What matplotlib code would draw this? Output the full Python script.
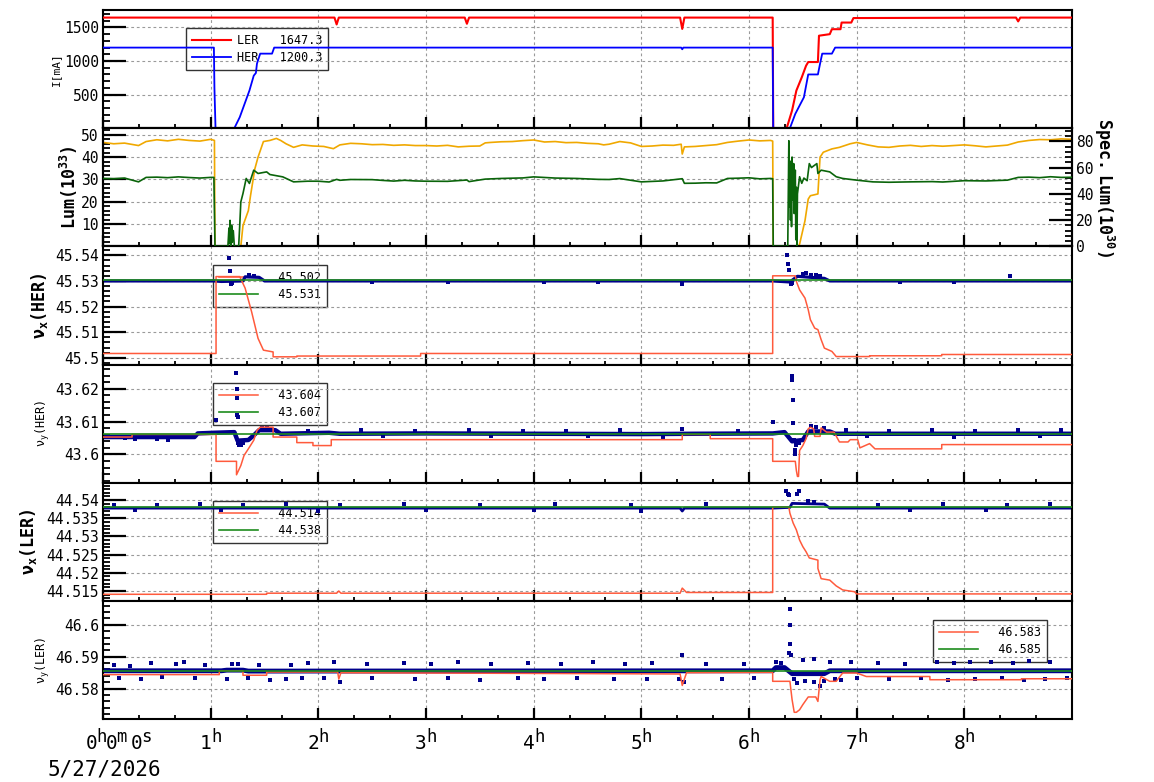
import matplotlib
matplotlib.use("Agg")
import matplotlib.pyplot as plt
from matplotlib.ticker import MultipleLocator, FixedLocator, FuncFormatter

plt.rcParams['font.family'] = ['DejaVu Sans Mono', 'DejaVu Sans']
plt.rcParams['mathtext.fontset'] = 'custom'
plt.rcParams['mathtext.rm'] = 'DejaVu Sans Mono'
plt.rcParams['mathtext.it'] = 'DejaVu Sans Mono:italic'
plt.rcParams['mathtext.bf'] = 'DejaVu Sans Mono:bold'

# ---------------- data (time in hours) ----------------
# Panel 1: beam currents [mA]
ler_t = [0.0, 2.15, 2.17, 2.19, 3.36, 3.38, 3.40, 5.36, 5.38, 5.40, 6.22, 6.225, 6.35, 6.40, 6.44, 6.49,
         6.53, 6.55, 6.64, 6.65, 6.75, 6.77, 6.85, 6.86, 6.95, 6.97, 8.48, 8.50, 8.52, 9.0]
ler_v = [1647, 1647, 1545, 1647, 1647, 1555, 1647, 1647, 1478, 1647, 1647, 0, 0, 263, 560, 757,
         930, 985, 985, 1377, 1400, 1474, 1474, 1573, 1573, 1640, 1647, 1590, 1647, 1647]
her_t = [0.0, 1.03, 1.035, 1.045, 1.22, 1.27, 1.36, 1.40, 1.42, 1.43, 1.46, 1.57, 1.59, 5.37, 5.38,
         5.39, 6.22, 6.225, 6.38, 6.43, 6.47, 6.51, 6.55, 6.64, 6.66, 6.68, 6.77, 6.80, 9.0]
her_v = [1200, 1200, 600, 0, 0, 163, 560, 782, 822, 961, 1110, 1110, 1200, 1200, 1175,
         1200, 1200, 0, 0, 213, 337, 460, 800, 800, 960, 1110, 1110, 1200, 1200]
cur_labels = ["LER   1647.3", "HER   1200.3"]

# Panel 2: luminosity (left, 1e33) and specific luminosity (right, 1e30)
lum_t = [0.0, 0.1, 0.2, 0.33, 0.4, 0.5, 0.6, 0.7, 0.8, 0.9,
         1.0, 1.035, 1.04, 1.28, 1.30, 1.35, 1.37, 1.41, 1.44, 1.49,
         1.55, 1.61, 1.65, 1.70, 1.77, 1.85, 1.95, 2.05, 2.14, 2.2,
         2.3, 2.4, 2.5, 2.6, 2.7, 2.8, 2.9, 3.0, 3.1, 3.2,
         3.3, 3.4, 3.5, 3.55, 3.6, 3.7, 3.8, 3.9, 4.0, 4.1,
         4.2, 4.3, 4.4, 4.5, 4.6, 4.65, 4.7, 4.8, 4.9, 4.95,
         5.0, 5.1, 5.2, 5.3, 5.37, 5.38, 5.40, 5.5, 5.6, 5.7,
         5.8, 5.9, 6.0, 6.1, 6.2, 6.22, 6.225, 6.46, 6.47, 6.52,
         6.55, 6.57, 6.64, 6.66, 6.69, 6.77, 6.84, 6.94, 7.0, 7.1,
         7.2, 7.3, 7.4, 7.5, 7.6, 7.7, 7.8, 7.9, 8.0, 8.1,
         8.2, 8.3, 8.4, 8.5, 8.6, 8.7, 8.8, 8.9, 9.0]
lum_v = [46.6, 46.0, 46.3, 45.2, 47.0, 47.8, 47.3, 48.0, 47.5, 47.2,
         48.0, 47.5, 0, 0, 9.3, 16, 22.7, 34.7, 40, 47,
         47.5, 48.4, 47.5, 46, 44.4, 45.5, 45, 44.8, 43.8, 45.5,
         46.2, 46.0, 45.6, 45.7, 45.3, 45.5, 45.2, 45.2, 45.0, 45.3,
         44.6, 44.9, 45.0, 46.4, 46.6, 46.9, 47.0, 47.4, 47.7, 46.8,
         47.0, 46.5, 46.6, 46.2, 46.0, 45.5, 45.8, 47.0, 46.4, 45.6,
         44.8, 45.0, 45.4, 45.3, 45.8, 41.4, 44.6, 44.8, 45.2, 45.6,
         46.6, 47.2, 47.7, 47.3, 47.5, 47.2, 0, 0, 1, 11.5,
         21.2, 22.7, 23.5, 40, 42.2, 43.7, 44.4, 46, 46.6, 45.5,
         44.6, 44.4, 45.0, 45.3, 44.8, 45.2, 44.9, 45.2, 45.5, 45.1,
         44.6, 45.0, 45.4, 46.8, 47.5, 47.9, 47.8, 48.2, 48.0]
sl_t = [0.0, 0.1, 0.2, 0.33, 0.4, 0.5, 0.6, 0.7, 0.8, 0.9,
        1.0, 1.03, 1.035, 1.04, 1.16, 1.17, 1.175, 1.18, 1.19, 1.195,
        1.20, 1.21, 1.22, 1.26, 1.27, 1.28, 1.30, 1.33, 1.36, 1.40,
        1.44, 1.52, 1.55, 1.67, 1.77, 1.9, 2.0, 2.1, 2.17, 2.2,
        2.3, 2.5, 2.6, 2.7, 2.8, 2.9, 3.0, 3.2, 3.38, 3.4,
        3.55, 3.7, 3.9, 4.0, 4.2, 4.4, 4.6, 4.7, 4.8, 5.0,
        5.2, 5.38, 5.40, 5.5, 5.6, 5.7, 5.8, 5.9, 6.0, 6.1,
        6.2, 6.22, 6.225, 6.36, 6.37, 6.375, 6.38, 6.385, 6.39, 6.395,
        6.40, 6.41, 6.415, 6.42, 6.43, 6.435, 6.44, 6.445, 6.45, 6.47,
        6.49, 6.51, 6.54, 6.56, 6.58, 6.63, 6.64, 6.67, 6.75, 6.81,
        6.87, 7.0, 7.15, 7.3, 7.5, 7.7, 7.8, 8.0, 8.2, 8.4,
        8.5, 8.6, 8.7, 8.8, 8.9, 9.0]
sl_v = [51.7, 51.5, 52.0, 49.1, 52.5, 52.7, 52.3, 52.9, 52.4, 52.0,
        52.5, 52.5, 26, 0, 0, 14, 2, 19.8, 0, 16,
        3, 12, 0, 0, 16, 33.8, 40.2, 51.7, 47.9, 58,
        55.5, 56.7, 54.7, 52.9, 49.1, 49.6, 49.6, 49.0, 51.0, 50.3,
        50.9, 50.8, 50.2, 49.7, 50.3, 49.8, 49.6, 49.5, 50.5, 49.3,
        51.2, 51.7, 52.1, 52.9, 52.0, 51.7, 51.0, 50.9, 51.6, 49.1,
        49.8, 51.5, 48.0, 48.1, 48.4, 48.3, 51.7, 51.9, 52.2, 51.4,
        51.7, 51.5, 0, 0, 80.4, 30, 65, 20, 55, 15,
        68, 35, 63, 25, 58, 5, 45, 0, 40, 53,
        48, 52, 50, 63, 60, 63, 55.5, 58, 56.7, 53,
        51.7, 50.4, 49.1, 48.8, 49.1, 49.3, 49.0, 50.0, 49.8, 50.4,
        52.5, 52.7, 52.3, 53.0, 52.5, 52.6]

# Panel 3: nu_x(HER)
hx_set_t = [0.0, 1.05, 1.05, 1.27, 1.32, 1.35, 1.38, 1.41, 1.44, 1.49, 1.58, 1.58, 1.80, 1.80, 2.95, 2.95,
            6.22, 6.22, 6.43, 6.44, 6.47, 6.52, 6.55, 6.57, 6.61, 6.64, 6.67, 6.70, 6.77, 6.81, 7.12, 7.12,
            7.79, 7.79, 9.0]
hx_set_v = [45.5017, 45.5017, 45.5317, 45.5317, 45.5272, 45.5226, 45.5180, 45.5128, 45.5076, 45.5030,
            45.5023, 45.5004, 45.5004, 45.5007, 45.5007, 45.5017, 45.5017, 45.5320, 45.5320, 45.5298,
            45.5265, 45.5233, 45.5188, 45.5149, 45.5116, 45.5110, 45.5071, 45.5038, 45.5025, 45.5005,
            45.5005, 45.5008, 45.5008, 45.5013, 45.5013]
hx_ref_t = [0.0, 9.0]
hx_ref_v = [45.5305, 45.5305]
hx_meas_t = [0.0, 1.03, 1.10, 1.30, 1.32, 1.45, 1.50, 6.22, 6.38, 6.45, 6.70, 6.75, 9.0]
hx_meas_v = [45.5300, 45.5300, 45.5298, 45.5300, 45.5316, 45.5314, 45.5300, 45.5300, 45.5296, 45.5318,
             45.5310, 45.5300, 45.5300]
hx_dot_t = [1.17, 1.175, 1.19, 1.20, 1.36, 1.40, 5.38, 8.42, 6.35, 6.36, 6.37, 6.39, 6.40, 6.50, 6.53,
            6.58, 6.62, 6.66, 2.5, 3.2, 4.1, 4.6, 7.4, 7.9]
hx_dot_v = [45.5390, 45.5340, 45.5288, 45.5292, 45.5322, 45.5320, 45.5290, 45.5318, 45.5400, 45.5368,
            45.5342, 45.5287, 45.5292, 45.5326, 45.5330, 45.5324, 45.5322, 45.5320, 45.5296, 45.5296,
            45.5297, 45.5296, 45.5296, 45.5296]
hx_labels = ["  45.502", "  45.531"]

# Panel 4: nu_y(HER)
hy_set_t = [0.0, 0.27, 0.27, 1.05, 1.05, 1.24, 1.24, 1.28, 1.31, 1.35,
            1.40, 1.43, 1.46, 1.58, 1.58, 1.80, 1.80, 1.95, 1.95, 2.12,
            2.12, 5.38, 5.38, 5.64, 5.64, 6.22, 6.22, 6.43, 6.44, 6.45,
            6.46, 6.47, 6.50, 6.53, 6.55, 6.57, 6.60, 6.61, 6.66, 6.67,
            6.72, 6.79, 6.84, 6.92, 6.94, 7.01, 7.03, 7.12, 7.17, 7.79,
            7.79, 9.0]
hy_set_v = [43.6053, 43.6053, 43.6061, 43.6061, 43.5979, 43.5979, 43.5938, 43.5966, 43.5997, 43.6017,
            43.6043, 43.6073, 43.6083, 43.6083, 43.6053, 43.6053, 43.6036, 43.6036, 43.6027, 43.6027,
            43.6045, 43.6045, 43.6061, 43.6061, 43.6048, 43.6048, 43.5979, 43.5979, 43.5951, 43.5933,
            43.5933, 43.6012, 43.6027, 43.6048, 43.6078, 43.6083, 43.6078, 43.6055, 43.6055, 43.6081,
            43.6068, 43.6068, 43.6038, 43.6038, 43.6045, 43.6045, 43.6020, 43.6033, 43.6017, 43.6017,
            43.6030, 43.6030]
hy_ref_t = [0.0, 9.0]
hy_ref_v = [43.6063, 43.6063]
hy_meas_t = [0.0, 0.85, 0.88, 1.03, 1.22, 1.25, 1.35, 1.40, 1.45, 1.60, 1.65, 2.1, 2.2, 3.0, 4.0,
             5.0, 5.5, 6.22, 6.33, 6.40, 6.50, 6.55, 6.75, 6.80, 9.0]
hy_meas_v = [43.6053, 43.6053, 43.6064, 43.6066, 43.6068, 43.6042, 43.6044, 43.6058, 43.6074, 43.6074,
             43.6063, 43.6066, 43.6063, 43.6064, 43.6063, 43.6062, 43.6063, 43.6064, 43.6068, 43.6040,
             43.6044, 43.6070, 43.6070, 43.6063, 43.6063]
hy_dot_t = [1.05, 1.235, 1.24, 1.242, 1.245, 1.25, 1.255, 1.26, 1.27, 1.28,
            1.30, 1.33, 1.48, 1.52, 1.56, 0.3, 0.6, 1.9, 2.4, 2.9,
            3.4, 3.9, 4.3, 4.8, 5.38, 5.9, 6.22, 6.395, 6.40, 6.405,
            6.41, 6.42, 6.425, 6.43, 6.44, 6.46, 6.58, 6.62, 6.70, 6.9,
            7.3, 7.7, 8.1, 8.5, 8.9, 0.2, 0.5, 2.6, 3.6, 4.5,
            5.2, 7.1, 7.9, 8.7]
hy_dot_v = [43.6104, 43.6249, 43.6200, 43.6173, 43.6121, 43.6115, 43.6036, 43.6030, 43.6040, 43.6028,
            43.6035, 43.6045, 43.6080, 43.6082, 43.6078, 43.6046, 43.6045, 43.6072, 43.6074, 43.6070,
            43.6073, 43.6072, 43.6070, 43.6074, 43.6078, 43.6072, 43.6098, 43.6238, 43.6226, 43.6165,
            43.6095, 43.6043, 43.6015, 43.6000, 43.6030, 43.6036, 43.6086, 43.6084, 43.6080, 43.6074,
            43.6072, 43.6075, 43.6072, 43.6073, 43.6074, 43.6050, 43.6048, 43.6055, 43.6056, 43.6055,
            43.6054, 43.6055, 43.6054, 43.6055]
hy_labels = ["  43.604", "  43.607"]

# Panel 5: nu_x(LER)
lx_set_t = [0.0, 1.52, 1.52, 2.17, 2.19, 2.21, 5.36, 5.38, 5.42, 6.22, 6.22, 6.37, 6.38, 6.41, 6.44,
            6.47, 6.50, 6.53, 6.56, 6.64, 6.64, 6.67, 6.75, 6.81, 6.87, 6.98, 7.0, 9.0]
lx_set_v = [44.5141, 44.5141, 44.5144, 44.5144, 44.5150, 44.5144, 44.5144, 44.5158, 44.5146, 44.5146,
            44.5381, 44.5381, 44.5364, 44.5337, 44.5318, 44.5290, 44.5272, 44.5258, 44.5241, 44.5235,
            44.5212, 44.5184, 44.5180, 44.5164, 44.5153, 44.5148, 44.5142, 44.5142]
lx_ref_t = [0.0, 9.0]
lx_ref_v = [44.5381, 44.5381]
lx_meas_t = [0.0, 5.36, 5.38, 5.40, 6.22, 6.38, 6.40, 6.70, 6.75, 9.0]
lx_meas_v = [44.5378, 44.5378, 44.5370, 44.5378, 44.5378, 44.5380, 44.5391, 44.5389, 44.5378, 44.5378]
lx_dot_t = [6.34, 6.36, 6.37, 6.45, 6.46, 6.55, 6.6, 0.1, 0.5, 0.9, 1.3, 1.7, 2.2, 2.8, 3.5,
            4.2, 4.9, 5.6, 7.2, 7.8, 8.4, 8.8, 0.3, 1.1, 2.0, 3.0, 4.0, 5.0, 7.5, 8.2]
lx_dot_v = [44.5425, 44.5416, 44.5414, 44.5418, 44.5425, 44.5397, 44.5396, 44.5387, 44.5387, 44.5388,
            44.5387, 44.5388, 44.5387, 44.5388, 44.5387, 44.5388, 44.5387, 44.5388, 44.5387, 44.5388,
            44.5387, 44.5388, 44.5372, 44.5372, 44.5371, 44.5372, 44.5372, 44.5371, 44.5372, 44.5372]
lx_labels = ["  44.514", "  44.538"]

# Panel 6: nu_y(LER)
ly_set_t = [0.0, 1.08, 1.08, 1.30, 1.30, 1.52, 1.52, 2.18, 2.19, 2.21,
            5.36, 5.38, 5.42, 6.22, 6.22, 6.38, 6.40, 6.42, 6.44, 6.47,
            6.50, 6.55, 6.62, 6.64, 6.66, 6.67, 6.75, 6.81, 6.87, 7.0,
            7.09, 7.68, 7.68, 8.53, 8.53, 9.0]
ly_set_v = [46.5844, 46.5844, 46.5856, 46.5856, 46.5842, 46.5842, 46.5852, 46.5852, 46.5830, 46.5850,
            46.5846, 46.5810, 46.5850, 46.5851, 46.5823, 46.5823, 46.5766, 46.5726, 46.5726, 46.5734,
            46.5750, 46.5774, 46.5774, 46.5760, 46.5828, 46.5838, 46.5823, 46.5823, 46.5849, 46.5849,
            46.5838, 46.5838, 46.5828, 46.5828, 46.5831, 46.5831]
ly_ref_t = [0.0, 9.0]
ly_ref_v = [46.5856, 46.5856]
ly_meas_t = [0.0, 1.1, 1.15, 1.30, 1.35, 6.22, 6.25, 6.33, 6.40, 6.70, 6.75, 9.0]
ly_meas_v = [46.5856, 46.5856, 46.5858, 46.5858, 46.5855, 46.5856, 46.5866, 46.5866, 46.5847, 46.5847,
             46.5856, 46.5856]
ly_dot_t = [0.10, 0.25, 0.45, 0.68, 0.75, 0.95, 1.20, 1.25, 1.45, 1.75,
            1.90, 2.15, 2.45, 2.80, 3.05, 3.30, 3.60, 3.95, 4.25, 4.55,
            4.85, 5.10, 5.38, 5.60, 5.95, 6.25, 6.30, 6.38, 6.38, 6.385,
            6.37, 6.39, 6.50, 6.60, 6.75, 6.95, 7.20, 7.45, 7.75, 7.90,
            8.05, 8.25, 8.45, 8.60, 8.80,
            0.15, 0.35, 0.55, 0.85, 1.15, 1.35, 1.55, 1.70, 1.85, 2.05,
            2.20, 2.50, 2.90, 3.20, 3.50, 3.85, 4.10, 4.40, 4.75, 5.05,
            5.35, 5.40, 5.75, 6.05, 6.42, 6.45, 6.52, 6.60, 6.66, 6.70,
            6.80, 6.85, 7.00, 7.30, 7.60, 7.85, 8.10, 8.35, 8.55, 8.75, 8.95]
ly_dot_v = [46.5875, 46.5872, 46.5880, 46.5876, 46.5882, 46.5874, 46.5878, 46.5876, 46.5874, 46.5873,
            46.5879, 46.5882, 46.5878, 46.5880, 46.5876, 46.5884, 46.5876, 46.5880, 46.5878, 46.5884,
            46.5876, 46.5880, 46.5905, 46.5878, 46.5876, 46.5882, 46.5880, 46.6049, 46.6000, 46.5940,
            46.5911, 46.5905, 46.5890, 46.5892, 46.5885, 46.5882, 46.5880, 46.5878, 46.5885, 46.5880,
            46.5884, 46.5882, 46.5880, 46.5886, 46.5882,
            46.5832, 46.5830, 46.5835, 46.5833, 46.5830, 46.5832, 46.5828, 46.5830, 46.5833, 46.5832,
            46.5820, 46.5832, 46.5830, 46.5833, 46.5828, 46.5832, 46.5830, 46.5833, 46.5830, 46.5831,
            46.5830, 46.5822, 46.5830, 46.5832, 46.5830, 46.5818, 46.5825, 46.5820, 46.5807, 46.5825,
            46.5830, 46.5828, 46.5832, 46.5830, 46.5832, 46.5826, 46.5830, 46.5832, 46.5826, 46.5830, 46.5832]
ly_labels = ["  46.583", "  46.585"]

hour_ticks = [0, 1, 2, 3, 4, 5, 6, 7, 8]
hour_digits = ["1", "2", "3", "4", "5", "6", "7", "8"]
hour_unit = "h"
zero_parts = ["0", "h", "0", "m", "0", "s"]
date_label = "5/27/2026"

# ---------------- colours ----------------
C_LER = '#ff0000'
C_HER = '#0000ff'
C_LUM = '#f0a800'
C_SL = '#0a640a'
C_SET = '#ff5a3c'
C_REF = '#1e8c1e'
C_MEAS = '#00008c'

# ---------------- figure ----------------
W, H = 1154, 782
fig = plt.figure(figsize=(W / 100, H / 100), dpi=100)
gs = fig.add_gridspec(6, 1, left=103 / W, right=1072 / W, top=1 - 10 / H, bottom=1 - 719 / H, hspace=0)
axes = []
for i in range(6):
    if i == 0:
        ax = fig.add_subplot(gs[i])
    else:
        ax = fig.add_subplot(gs[i], sharex=axes[0])
    axes.append(ax)

fmt = FuncFormatter(lambda v, p: f"{v:g}")


def style(ax, yticks, yminor, ylim):
    for s in ax.spines.values():
        s.set_linewidth(1.5)
    ax.tick_params(axis='both', which='both', direction='in', top=False, right=False)
    ax.tick_params(axis='y', which='major', length=16.5, width=1.6, labelsize=10.5, pad=3)
    ax.tick_params(axis='y', which='minor', length=5, width=1.3)
    ax.tick_params(axis='x', which='major', length=8, width=1.6, labelsize=14.5, pad=5)
    ax.tick_params(axis='x', which='minor', length=3, width=1.3)
    ax.xaxis.set_major_locator(FixedLocator(hour_ticks))
    ax.xaxis.set_minor_locator(MultipleLocator(1 / 3))
    ax.yaxis.set_major_locator(FixedLocator(yticks))
    ax.yaxis.set_minor_locator(MultipleLocator(yminor))
    ax.yaxis.set_major_formatter(fmt)
    ax.set_ylim(*ylim)
    ax.grid(True, which='major', axis='both', color='#9a9a9a', linestyle=(0, (2.5, 2.5)), linewidth=0.8)


def legend(ax, handles, labels, x, y):
    leg = ax.legend(handles, labels, loc='upper left', bbox_to_anchor=(x, y), bbox_transform=ax.transAxes,
                    borderaxespad=0, frameon=True, fancybox=False, edgecolor='black', facecolor='none',
                    prop={'family': 'DejaVu Sans Mono', 'size': 8.5}, handlelength=3.3, handletextpad=0.5,
                    labelspacing=0.35, borderpad=0.5)
    leg.get_frame().set_linewidth(1.0)
    leg.set_zorder(1)
    return leg


# Panel 1
ax = axes[0]
l1, = ax.plot(ler_t, ler_v, color=C_LER, lw=1.5, zorder=3)
l2, = ax.plot(her_t, her_v, color=C_HER, lw=1.3, zorder=3)
style(ax, [500, 1000, 1500], 100, (0, 1760))
ax.set_ylabel("I[mA]", fontsize=8, labelpad=2)
legend(ax, [l1, l2], cur_labels, 0.0857, 0.847)

# Panel 2
ax = axes[1]
ax.plot(lum_t, lum_v, color=C_LUM, lw=1.2, zorder=3)
style(ax, [10, 20, 30, 40, 50], 2, (0, 53))
ax.set_ylabel("$\\mathbf{Lum(10^{33})}$", fontsize=12, labelpad=1)
axr = ax.twinx()
axr.plot(sl_t, sl_v, color=C_SL, lw=1.2, zorder=3)
for s in axr.spines.values():
    s.set_linewidth(1.5)
axr.tick_params(axis='y', which='both', direction='in', left=False, right=True)
axr.tick_params(axis='y', which='major', length=16.5, width=1.6, labelsize=10.5, pad=3)
axr.tick_params(axis='y', which='minor', length=5, width=1.3)
axr.yaxis.set_major_locator(FixedLocator([0, 20, 40, 60, 80]))
axr.yaxis.set_minor_locator(MultipleLocator(4))
axr.yaxis.set_major_formatter(fmt)
axr.set_ylim(0, 90)
axr.set_ylabel("$\\mathbf{Spec.\\ Lum(10^{30})}$", fontsize=12, rotation=270, labelpad=16)


def tune_panel(ax, set_t, set_v, ref_t, ref_v, meas_t, meas_v, dot_t, dot_v, band_lw, labels, lx, ly,
               yticks, yminor, ylim):
    ax.plot(meas_t, meas_v, color=C_MEAS, lw=band_lw, zorder=2, solid_capstyle='butt')
    ax.plot(dot_t, dot_v, ls='none', marker='s', ms=2.2, mew=0, color=C_MEAS, zorder=2)
    a, = ax.plot(set_t, set_v, color=C_SET, lw=1.1, zorder=3)
    b, = ax.plot(ref_t, ref_v, color=C_REF, lw=1.2, zorder=4)
    style(ax, yticks, yminor, ylim)
    legend(ax, [a, b], labels, lx, ly)


tune_panel(axes[2], hx_set_t, hx_set_v, hx_ref_t, hx_ref_v, hx_meas_t, hx_meas_v, hx_dot_t, hx_dot_v, 2.3,
           hx_labels, 0.1135, 0.839, [45.5, 45.51, 45.52, 45.53, 45.54], 0.002, (45.4974, 45.5435))
axes[2].set_ylabel("$\\mathbf{ν_x(HER)}$", fontsize=12, labelpad=3.5)

tune_panel(axes[3], hy_set_t, hy_set_v, hy_ref_t, hy_ref_v, hy_meas_t, hy_meas_v, hy_dot_t, hy_dot_v, 3.2,
           hy_labels, 0.1135, 0.84, [43.6, 43.61, 43.62], 0.002, (43.5914, 43.6274))
axes[3].set_ylabel("$\\mathrm{ν_y}$(HER)", fontsize=8.5, labelpad=2)

tune_panel(axes[4], lx_set_t, lx_set_v, lx_ref_t, lx_ref_v, lx_meas_t, lx_meas_v, lx_dot_t, lx_dot_v, 2.0,
           lx_labels, 0.1135, 0.847, [44.515, 44.52, 44.525, 44.53, 44.535, 44.54], 0.001, (44.5123, 44.5448))
axes[4].set_ylabel("$\\mathbf{ν_x(LER)}$", fontsize=12, labelpad=5)

tune_panel(axes[5], ly_set_t, ly_set_v, ly_ref_t, ly_ref_v, ly_meas_t, ly_meas_v, ly_dot_t, ly_dot_v, 3.5,
           ly_labels, 0.8566, 0.839, [46.58, 46.59, 46.6], 0.002, (46.5705, 46.6075))
axes[5].set_ylabel("$\\mathrm{ν_y}$(LER)", fontsize=8.5, labelpad=2)

for ax in axes:
    ax.tick_params(axis='x', labelbottom=False)
axes[0].set_xlim(0, 9.0)

# hour labels: large digit plus raised unit letter
axb = axes[5]
BIG, SMALL = 14, 12.5
for h, d in zip(hour_ticks[1:], hour_digits):
    axb.annotate(d, xy=(h, 0), xycoords=('data', 'axes fraction'), xytext=(0.5, -21.6),
                 textcoords='offset points', ha='right', va='baseline', fontsize=BIG)
    axb.annotate(hour_unit, xy=(h, 0), xycoords=('data', 'axes fraction'), xytext=(0.3, -16.2),
                 textcoords='offset points', ha='left', va='baseline', fontsize=SMALL)
zero_offsets = [-12.6, -5.0, 2.0, 9.6, 20.3, 27.6]
for part, off, big in zip(zero_parts, zero_offsets, [True, False, True, False, True, False]):
    axb.annotate(part, xy=(0, 0), xycoords=('data', 'axes fraction'),
                 xytext=(off, -21.6 if big else -16.2), textcoords='offset points',
                 ha='left', va='baseline', fontsize=BIG if big else SMALL)
axb.annotate(date_label, xy=(0, 0), xycoords=('data', 'axes fraction'), xytext=(1, -29.5),
             textcoords='offset points', ha='center', va='top', fontsize=15)

fig.savefig("out.png", dpi=100)
